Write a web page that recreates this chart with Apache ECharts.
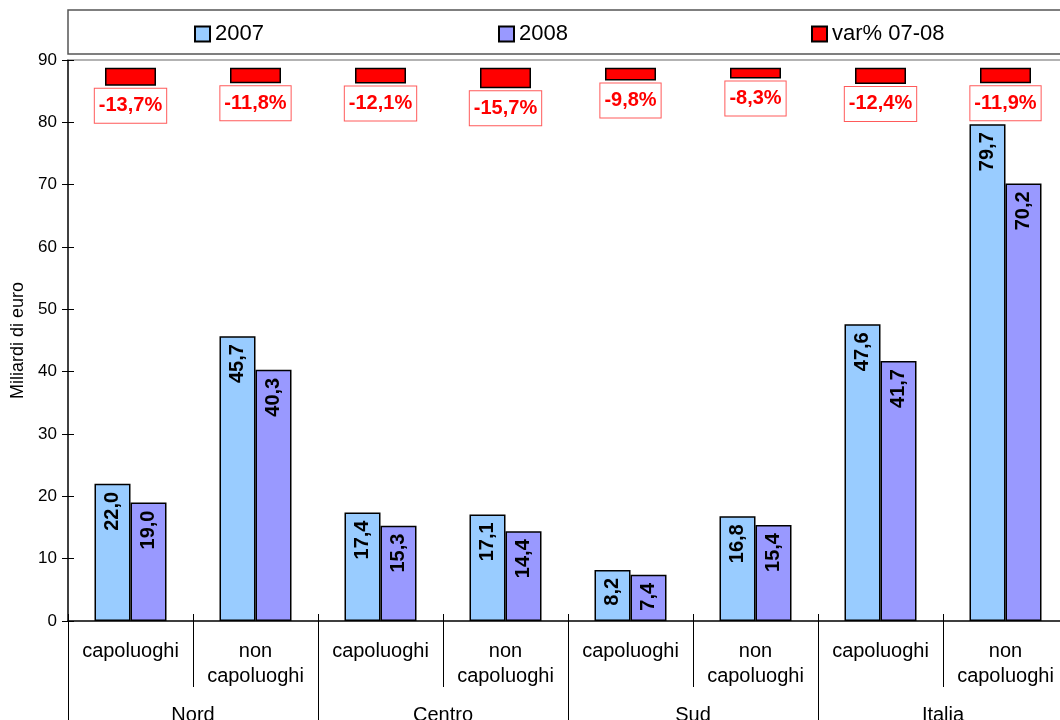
<!DOCTYPE html>
<html>
<head>
<meta charset="utf-8">
<script src="https://cdn.jsdelivr.net/npm/echarts@6/dist/echarts.min.js"></script>
<style>
  html, body { margin: 0; padding: 0; background: #ffffff; }
  #chart { width: 1060px; height: 720px; }
</style>
</head>
<body>
<div id="chart"></div>
<script>
// Sub-categories (inner axis level) and geographic areas (outer axis level)
const subCategories = [
  'capoluoghi', 'non\ncapoluoghi',
  'capoluoghi', 'non\ncapoluoghi',
  'capoluoghi', 'non\ncapoluoghi',
  'capoluoghi', 'non\ncapoluoghi'
];
const areas = ['Nord', 'Centro', 'Sud', 'Italia'];

// Billions of euro
const values2007 = [22.0, 45.7, 17.4, 17.1, 8.2, 16.8, 47.6, 79.7];
const values2008 = [19.0, 40.3, 15.3, 14.4, 7.4, 15.4, 41.7, 70.2];
// Percentage change 2007-2008
const varPct = [-13.7, -11.8, -12.1, -15.7, -9.8, -8.3, -12.4, -11.9];

// Main value axis range
const yMin = 0, yMax = 90, yStep = 10;

const FONT = '"Liberation Sans", Arial, sans-serif';
const fmt = v => v.toFixed(1).replace('.', ',');

const chart = echarts.init(document.getElementById('chart'), null, { renderer: 'canvas' });

// Vertical value labels, reading bottom-to-top, hanging from the bar top
const valueLabel = {
  show: true,
  position: 'insideTop',
  rotate: 90,
  align: 'right',
  verticalAlign: 'middle',
  distance: 8,
  color: '#000',
  fontFamily: FONT,
  fontWeight: 'bold',
  fontSize: 20,
  formatter: p => fmt(p.value)
};

const legendBase = {
  top: 18,
  icon: 'rect',
  itemWidth: 15,
  itemHeight: 15,
  textStyle: { fontFamily: FONT, fontSize: 22, color: '#000' }
};

chart.setOption({
  animation: false,
  backgroundColor: '#ffffff',
  textStyle: { fontFamily: FONT },
  graphic: [{
    type: 'rect',
    shape: { x: 68, y: 10, width: 1010, height: 44 },
    style: { fill: 'none', stroke: '#555', lineWidth: 1.5 },
    silent: true
  }],
  legend: [
    Object.assign({ left: 189, data: ['2007'] }, legendBase),
    Object.assign({ left: 493, data: ['2008'] }, legendBase),
    Object.assign({ left: 806, data: ['var% 07-08'] }, legendBase)
  ],
  grid: { left: 68, top: 60, width: 1000, height: 561, containLabel: false, outerBoundsMode: 'none' },
  xAxis: [
    {
      type: 'category',
      data: subCategories,
      position: 'bottom',
      axisLine: { show: true, onZero: false, lineStyle: { color: '#000', width: 1.5 } },
      axisTick: { show: true, interval: 0, length: 66, lineStyle: { color: '#000', width: 1 } },
      axisLabel: { interval: 0, fontSize: 20, lineHeight: 25, margin: 18, color: '#000', fontFamily: FONT }
    },
    {
      type: 'category',
      data: areas,
      position: 'bottom',
      axisLine: { show: false, onZero: false },
      axisTick: { show: true, interval: 0, length: 110, lineStyle: { color: '#000', width: 1 } },
      axisLabel: { interval: 0, fontSize: 20, margin: 84, color: '#000', fontFamily: FONT }
    },
    {
      type: 'category',
      data: subCategories,
      position: 'top',
      axisLine: { show: true, onZero: false, lineStyle: { color: '#9a9a9a', width: 1.5 } },
      axisTick: { show: false },
      axisLabel: { show: false }
    },
    {
      type: 'category',
      data: subCategories,
      position: 'bottom',
      axisLine: { show: false, onZero: false },
      axisTick: { show: true, inside: true, interval: 0, length: 7, lineStyle: { color: '#000', width: 1 } },
      axisLabel: { show: false }
    }
  ],
  yAxis: [
    {
      type: 'value',
      position: 'left',
      min: yMin, max: yMax, interval: yStep,
      name: 'Miliardi di euro',
      nameLocation: 'middle',
      nameGap: 40,
      nameTextStyle: { fontSize: 18, color: '#000', fontFamily: FONT },
      axisLine: { show: true, onZero: false, lineStyle: { color: '#000', width: 1.5 } },
      axisTick: { show: true, length: 6, lineStyle: { color: '#000', width: 1 } },
      axisLabel: { fontSize: 17, color: '#000', margin: 11, fontFamily: FONT },
      splitLine: { show: false }
    },
    {
      type: 'value',
      position: 'right',
      min: -425, max: 6,
      show: false,
      axisLine: { onZero: false },
      splitLine: { show: false }
    },
    {
      type: 'value',
      position: 'left',
      min: yMin, max: yMax, interval: yStep,
      axisLine: { show: false, onZero: false },
      axisTick: { show: true, inside: true, length: 6, lineStyle: { color: '#000', width: 1 } },
      axisLabel: { show: false },
      splitLine: { show: false }
    }
  ],
  series: [
    {
      name: '2007',
      type: 'bar',
      xAxisIndex: 0,
      yAxisIndex: 0,
      data: values2007,
      barWidth: 36,
      barGap: '0%',
      itemStyle: { color: '#99CCFF', borderColor: '#000', borderWidth: 1.5 },
      label: valueLabel
    },
    {
      name: '2008',
      type: 'bar',
      xAxisIndex: 0,
      yAxisIndex: 0,
      data: values2008,
      barWidth: 36,
      barGap: '0%',
      itemStyle: { color: '#9999FF', borderColor: '#000', borderWidth: 1.5 },
      label: valueLabel
    },
    {
      name: 'var% 07-08',
      type: 'bar',
      xAxisIndex: 2,
      yAxisIndex: 1,
      data: varPct,
      barWidth: 51,
      z: 5,
      itemStyle: { color: '#FF0000', borderColor: '#000', borderWidth: 1.5 },
      label: {
        show: true,
        position: 'bottom',
        distance: 3,
        color: '#FF0000',
        fontFamily: FONT,
        fontWeight: 'bold',
        fontSize: 20,
        lineHeight: 22,
        padding: [6, 4, 6, 4],
        backgroundColor: '#ffffff',
        borderColor: '#ff5a5a',
        borderWidth: 1,
        formatter: p => fmt(p.value) + '%'
      }
    }
  ]
});
</script>
</body>
</html>
